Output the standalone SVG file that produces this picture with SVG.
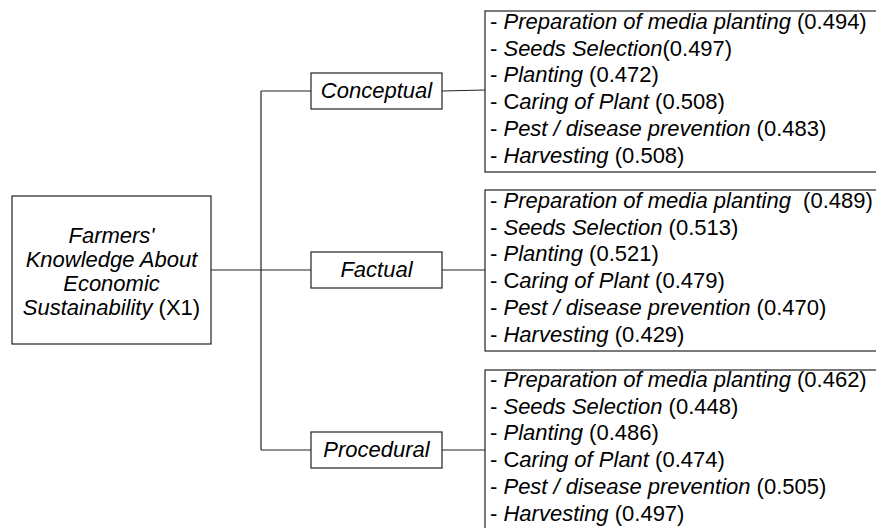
<svg xmlns="http://www.w3.org/2000/svg" width="876" height="528" viewBox="0 0 876 528">
<style>
text{font-family:"Liberation Sans",Arial,sans-serif;font-size:22px;fill:#000;white-space:pre}
.i{font-style:italic}
.box{fill:#fff;stroke:#222;stroke-width:1.2}
.ln{fill:none;stroke:#222;stroke-width:1.2}
</style>
<rect width="876" height="528" fill="#fff"/>
<g id="connectors">
<line class="ln" x1="211" y1="270" x2="261" y2="270"/>
<line class="ln" x1="261" y1="91" x2="261" y2="450"/>
<line class="ln" x1="261" y1="91" x2="311" y2="91"/>
<line class="ln" x1="261" y1="270" x2="311" y2="270"/>
<line class="ln" x1="261" y1="450" x2="311" y2="450"/>
<line class="ln" x1="442" y1="91" x2="485" y2="90"/>
<line class="ln" x1="442" y1="270" x2="485" y2="270"/>
<line class="ln" x1="442" y1="450" x2="485" y2="450"/>
</g>
<g id="root">
<rect class="box" x="12" y="196" width="199" height="148"/>
<text x="111.5" y="243" text-anchor="middle" class="i">Farmers'</text>
<text x="111.5" y="267" text-anchor="middle" class="i">Knowledge About</text>
<text x="111.5" y="291" text-anchor="middle" class="i">Economic</text>
<text x="111.5" y="315" text-anchor="middle"><tspan class="i">Sustainability</tspan> (X1)</text>
</g>
<g id="conceptual">
<rect class="box" x="311" y="73" width="131" height="36"/>
<text x="376.5" y="98" text-anchor="middle" class="i">Conceptual</text>
</g>
<g id="factual">
<rect class="box" x="311" y="252" width="131" height="36"/>
<text x="376.5" y="277" text-anchor="middle" class="i">Factual</text>
</g>
<g id="procedural">
<rect class="box" x="311" y="432" width="131" height="36"/>
<text x="376.5" y="457" text-anchor="middle" class="i">Procedural</text>
</g>
<g id="list-conceptual">
<rect class="box" x="485" y="11" width="400" height="161"/>
<text x="490" y="29">- <tspan class="i">Preparation of media planting</tspan> (0.494)</text>
<text x="490" y="55.7">- <tspan class="i">Seeds Selection</tspan>(0.497)</text>
<text x="490" y="82.4">- <tspan class="i">Planting</tspan> (0.472)</text>
<text x="490" y="109.1">- C<tspan class="i">aring of Plant</tspan> (0.508)</text>
<text x="490" y="135.8">- <tspan class="i">Pest / disease prevention</tspan> (0.483)</text>
<text x="490" y="162.5">- <tspan class="i">Harvesting</tspan> (0.508)</text>
</g>
<g id="list-factual">
<rect class="box" x="485" y="190" width="400" height="161"/>
<text x="490" y="208">- <tspan class="i">Preparation of media planting</tspan>  (0.489)</text>
<text x="490" y="234.7">- <tspan class="i">Seeds Selection</tspan> (0.513)</text>
<text x="490" y="261.4">- <tspan class="i">Planting</tspan> (0.521)</text>
<text x="490" y="288.1">- C<tspan class="i">aring of Plant</tspan> (0.479)</text>
<text x="490" y="314.8">- <tspan class="i">Pest / disease prevention</tspan> (0.470)</text>
<text x="490" y="341.5">- <tspan class="i">Harvesting</tspan> (0.429)</text>
</g>
<g id="list-procedural">
<rect class="box" x="485" y="370" width="400" height="170"/>
<text x="490" y="387">- <tspan class="i">Preparation of media planting</tspan> (0.462)</text>
<text x="490" y="413.7">- <tspan class="i">Seeds Selection</tspan> (0.448)</text>
<text x="490" y="440.4">- <tspan class="i">Planting</tspan> (0.486)</text>
<text x="490" y="467.1">- C<tspan class="i">aring of Plant</tspan> (0.474)</text>
<text x="490" y="493.8">- <tspan class="i">Pest / disease prevention</tspan> (0.505)</text>
<text x="490" y="520.5">- <tspan class="i">Harvesting</tspan> (0.497)</text>
</g>
</svg>
